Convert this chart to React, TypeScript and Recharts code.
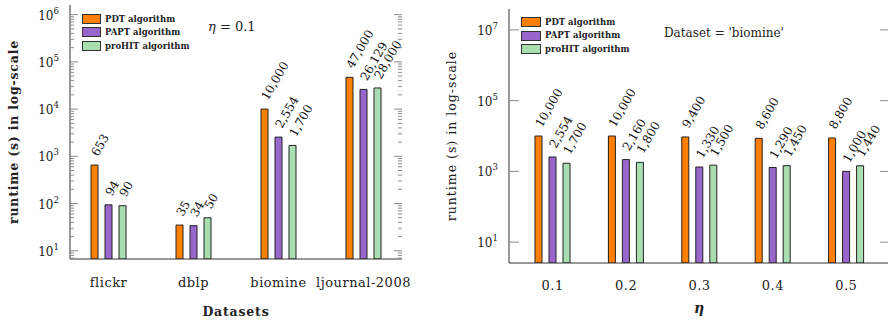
import React from 'react';
import { BarChart, Bar, XAxis, YAxis, Legend, LabelList } from 'recharts';

const FONT = "'DejaVu Serif', serif";
const AX = '#333';
const TICK = '#8c8c8c';

// ---- Left chart data ----
const datasets = ['flickr', 'dblp', 'biomine', 'ljournal-2008'];
const pdtByDataset = [653, 35, 10000, 47000];
const paptByDataset = [94, 34, 2554, 26129];
const prohitByDataset = [90, 50, 1700, 28000];

// ---- Right chart data ----
const etas = ['0.1', '0.2', '0.3', '0.4', '0.5'];
const pdtByEta = [10000, 10000, 9400, 8600, 8800];
const paptByEta = [2554, 2160, 1330, 1290, 1000];
const prohitByEta = [1700, 1800, 1500, 1450, 1440];

const seriesNames = ['PDT algorithm', 'PAPT algorithm', 'proHIT algorithm'];
const seriesColors = ['#FF8000', '#9966CC', '#A8DEB0'];

const LEFT_DOMAIN: [number, number] = [6.7, 1.6e6];
const RIGHT_DOMAIN: [number, number] = [2.57, 3.9e7];
const leftMajor = [10, 100, 1000, 10000, 100000, 1000000];
const leftDecades = [1, 10, 100, 1000, 10000, 100000, 1000000];
const mantissas = [2, 3, 4, 5, 6, 7, 8, 9];
const leftTicks = [
  ...leftMajor,
  ...leftDecades.flatMap((d) => mantissas.map((m) => m * d)),
].filter((v) => v >= LEFT_DOMAIN[0] && v <= LEFT_DOMAIN[1]);
const rightMajor = [10, 1000, 100000, 10000000];

const leftData = datasets.map((name, i) => ({
  name,
  pdt: pdtByDataset[i],
  papt: paptByDataset[i],
  prohit: prohitByDataset[i],
}));
const rightData = etas.map((name, i) => ({
  name,
  pdt: pdtByEta[i],
  papt: paptByEta[i],
  prohit: prohitByEta[i],
}));

const YTick = (props: any) => {
  const { x, y, payload, majors, plotW, majorLen, minorLen, gap, fs } = props;
  const v = payload.value;
  const major = majors.includes(v);
  const len = major ? majorLen : minorLen;
  return (
    <g>
      <line x1={x} y1={y} x2={x + len} y2={y} stroke={TICK} />
      <line x1={x + plotW} y1={y} x2={x + plotW - len} y2={y} stroke={TICK} />
      {major && (
        <text x={x - gap} y={y + 5} textAnchor="end" fontFamily={FONT} fontSize={fs} fill="#222">
          10
          <tspan dy={-6} fontSize={fs * 0.72}>
            {Math.round(Math.log10(v))}
          </tspan>
        </text>
      )}
    </g>
  );
};

const RotLabel = (props: any) => {
  const { x, y, width, value } = props;
  const cx = x + width / 2;
  const cy = y - 10;
  return (
    <text
      x={cx}
      y={cy}
      transform={`rotate(-60 ${cx} ${cy})`}
      fontFamily={FONT}
      fontSize={12}
      fill="#111"
      textAnchor="start"
      dominantBaseline="central"
    >
      {Number(value).toLocaleString('en-US')}
    </text>
  );
};

const makeLegend = (sw: number, sh: number, rowH: number, textGap: number) => (props: any) => {
  const items = [...(props.payload || [])].sort(
    (a: any, b: any) => seriesNames.indexOf(a.value) - seriesNames.indexOf(b.value)
  );
  return (
    <div style={{ display: 'flex', flexDirection: 'column' }}>
      {items.map((e: any) => (
        <div key={e.value} style={{ display: 'flex', alignItems: 'center', height: rowH }}>
          <div
            style={{
              width: sw,
              height: sh,
              background: e.color,
              border: '1px solid #333',
              boxSizing: 'border-box',
            }}
          />
          <span
            style={{
              marginLeft: textGap,
              fontFamily: FONT,
              fontSize: 8.5,
              fontWeight: 'bold',
              color: '#222',
              whiteSpace: 'nowrap',
              lineHeight: 1,
            }}
          >
            {e.value}
          </span>
        </div>
      ))}
    </div>
  );
};

const axisTitle = { fontFamily: FONT, fontSize: 12.5, fontWeight: 'bold', fill: '#222', letterSpacing: 0.8 };
const axisTitlePlain = { fontFamily: FONT, fontSize: 12.5, fontWeight: 'normal', fill: '#222', letterSpacing: 1 };

const renderBars = () =>
  ['pdt', 'papt', 'prohit'].map((k, i) => (
    <Bar
      key={k}
      dataKey={k}
      name={seriesNames[i]}
      fill={seriesColors[i]}
      stroke="#222"
      strokeWidth={1}
      isAnimationActive={false}
    >
      <LabelList dataKey={k} content={RotLabel} />
    </Bar>
  ));

export default function App() {
  const leftPlotW = 332;
  const rightPlotW = 381;
  return (
    <div style={{ position: 'absolute', left: 0, top: 0, width: 888, height: 323, overflow: 'hidden', background: '#fff' }}>
      <div style={{ position: 'absolute', left: 0, top: 0 }}>
        <BarChart
          width={440}
          height={323}
          data={leftData}
          margin={{ top: 5, right: 38, bottom: 0, left: 0 }}
          barSize={7}
          barGap={7}
        >
          <XAxis
            dataKey="name"
            height={64}
            padding={{ left: -4, right: -4 }}
            tickLine={false}
            tickSize={0}
            tickMargin={19}
            axisLine={{ stroke: AX }}
            interval={0}
            tick={{ fontFamily: FONT, fontSize: 13, fill: '#222', letterSpacing: 0.5 }}
            label={{ value: 'Datasets', position: 'insideBottom', offset: 7, ...axisTitle }}
          />
          <XAxis xAxisId="top" orientation="top" dataKey="name" height={0} tick={false} tickLine={false} axisLine={{ stroke: AX }} />
          <YAxis
            scale="log"
            type="number"
            domain={LEFT_DOMAIN}
            allowDataOverflow
            ticks={leftTicks}
            interval={0}
            width={70}
            tickSize={0}
            tickMargin={0}
            tickLine={false}
            axisLine={{ stroke: AX }}
            tick={(p: any) => (
              <YTick {...p} majors={leftMajor} plotW={leftPlotW} majorLen={8} minorLen={4} gap={11} fs={12} />
            )}
            label={{
              value: 'runtime (s) in log-scale',
              angle: -90,
              position: 'insideLeft',
              offset: 14,
              style: { textAnchor: 'middle' },
              ...axisTitle,
            }}
          />
          <YAxis yAxisId="r" orientation="right" scale="log" type="number" domain={LEFT_DOMAIN} allowDataOverflow width={0} tick={false} tickLine={false} axisLine={{ stroke: AX }} />
          <Legend
            layout="vertical"
            align="center"
            verticalAlign="middle"
            wrapperStyle={{ left: 82, top: 12, width: 'auto' }}
            content={makeLegend(19, 10, 13.5, 4)}
          />
          {renderBars()}
          <text x={208} y={31} fontFamily={FONT} fontSize={13} fill="#222">
            <tspan fontStyle="italic">η</tspan> = 0.1
          </text>
        </BarChart>
      </div>
      <div style={{ position: 'absolute', left: 440, top: 0 }}>
        <BarChart
          width={450}
          height={323}
          data={rightData}
          margin={{ top: 9, right: 0, bottom: 0, left: 0 }}
          barSize={7}
          barGap={7}
        >
          <XAxis
            dataKey="name"
            height={60}
            padding={{ left: 7, right: 7 }}
            tickLine={false}
            tickSize={0}
            tickMargin={18}
            axisLine={{ stroke: AX }}
            interval={0}
            tick={{ fontFamily: FONT, fontSize: 13, fill: '#222', letterSpacing: 0.5 }}
            label={{ value: 'η', position: 'insideBottom', offset: 10, ...axisTitle, fontStyle: 'italic', fontSize: 14 }}
          />
          <XAxis xAxisId="top" orientation="top" dataKey="name" height={0} tick={false} tickLine={false} axisLine={{ stroke: AX }} />
          <YAxis
            scale="log"
            type="number"
            domain={RIGHT_DOMAIN}
            allowDataOverflow
            ticks={rightMajor}
            interval={0}
            width={69}
            tickSize={0}
            tickMargin={0}
            tickLine={false}
            axisLine={{ stroke: AX }}
            tick={(p: any) => (
              <YTick {...p} majors={rightMajor} plotW={rightPlotW} majorLen={10} minorLen={4} gap={11} fs={12} />
            )}
            label={{
              value: 'runtime (s) in log-scale',
              angle: -90,
              position: 'insideLeft',
              offset: 12,
              style: { textAnchor: 'middle' },
              ...axisTitlePlain,
            }}
          />
          <YAxis yAxisId="r" orientation="right" scale="log" type="number" domain={RIGHT_DOMAIN} allowDataOverflow width={0} tick={false} tickLine={false} axisLine={{ stroke: AX }} />
          <Legend
            layout="vertical"
            align="center"
            verticalAlign="middle"
            wrapperStyle={{ left: 81, top: 15, width: 'auto' }}
            content={makeLegend(20, 10, 13.8, 4)}
          />
          {renderBars()}
          <text x={224} y={37} fontFamily={FONT} fontSize={12} fill="#222">
            Dataset = 'biomine'
          </text>
        </BarChart>
      </div>
    </div>
  );
}
